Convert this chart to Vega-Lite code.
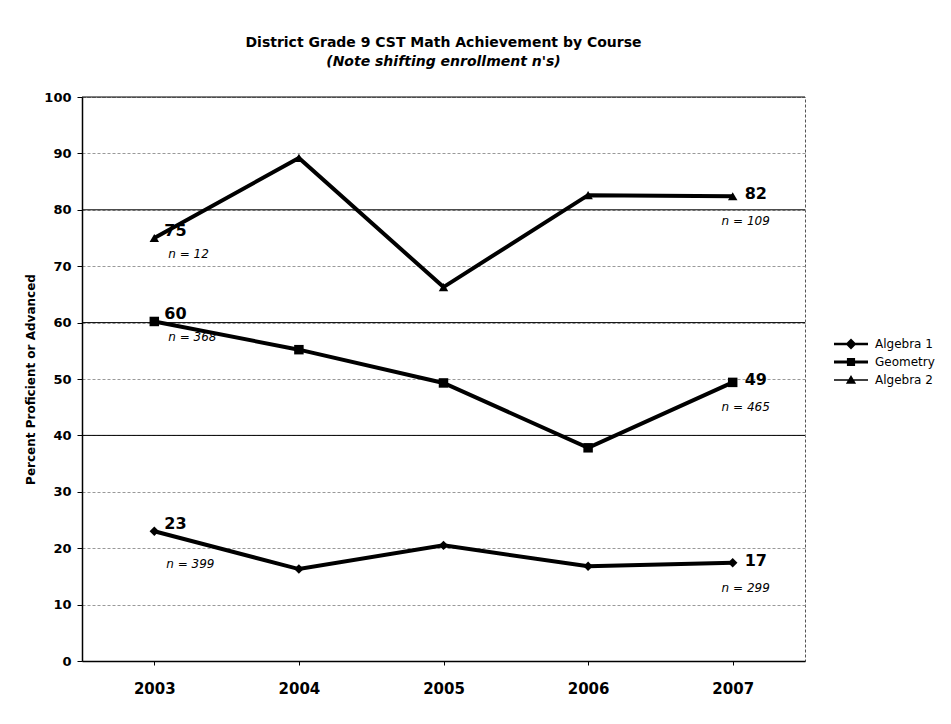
{
  "$schema": "https://vega.github.io/schema/vega-lite/v6.json",
  "width": 723,
  "height": 564,
  "autosize": {"type": "none"},
  "padding": {"left": 82, "top": 97, "right": 146, "bottom": 63},
  "background": "white",
  "config": {
    "font": "DejaVu Sans",
    "view": {"stroke": "#555", "strokeDash": [3, 2], "strokeWidth": 1},
    "axis": {"domainColor": "#000", "tickColor": "#000", "labelColor": "#000", "titleColor": "#000", "labelFontWeight": "bold"},
    "axisY": {"gridColor": "#999", "gridDash": [3, 2], "gridWidth": 1, "tickSize": 5, "labelFontSize": 13, "labelPadding": 6, "titleFontSize": 12, "titleFontWeight": "bold", "titlePadding": 6, "domainWidth": 1.5},
    "axisX": {"grid": false, "labelAngle": 0, "labelFontSize": 15, "tickSize": 4, "labelPadding": 16, "domainWidth": 1.5}
  },
  "title": {
    "text": "District Grade 9 CST Math Achievement by Course",
    "subtitle": "(Note shifting enrollment n's)",
    "fontSize": 14,
    "fontWeight": "bold",
    "color": "#000",
    "subtitleFontSize": 14,
    "subtitleFontWeight": "bold",
    "subtitleFontStyle": "italic",
    "subtitleColor": "#000",
    "subtitlePadding": 5,
    "anchor": "middle",
    "offset": 22
  },
  "data": {
    "values": [
      {"course": "Algebra 1", "year": "2003", "value": 23.0, "pos": "first", "label": "23", "n": "n = 399"},
      {"course": "Algebra 1", "year": "2004", "value": 16.3},
      {"course": "Algebra 1", "year": "2005", "value": 20.5},
      {"course": "Algebra 1", "year": "2006", "value": 16.8},
      {"course": "Algebra 1", "year": "2007", "value": 17.4, "pos": "last", "label": "17", "n": "n = 299"},
      {"course": "Geometry", "year": "2003", "value": 60.2, "pos": "first", "label": "60", "n": "n = 368"},
      {"course": "Geometry", "year": "2004", "value": 55.2},
      {"course": "Geometry", "year": "2005", "value": 49.3},
      {"course": "Geometry", "year": "2006", "value": 37.8},
      {"course": "Geometry", "year": "2007", "value": 49.4, "pos": "last", "label": "49", "n": "n = 465"},
      {"course": "Algebra 2", "year": "2003", "value": 75.0, "pos": "first", "label": "75", "n": "n = 12"},
      {"course": "Algebra 2", "year": "2004", "value": 89.2},
      {"course": "Algebra 2", "year": "2005", "value": 66.3},
      {"course": "Algebra 2", "year": "2006", "value": 82.6},
      {"course": "Algebra 2", "year": "2007", "value": 82.4, "pos": "last", "label": "82", "n": "n = 109"}
    ]
  },
  "layer": [
    {
      "mark": {"type": "line", "color": "#000"},
      "encoding": {
        "x": {"field": "year", "type": "ordinal", "title": null},
        "y": {"field": "value", "type": "quantitative", "scale": {"domain": [0, 100], "nice": false}, "title": "Percent Proficient or Advanced", "axis": {"grid": true, "values": [0, 10, 20, 30, 40, 50, 60, 70, 80, 90, 100]}},
        "detail": {"field": "course"},
        "strokeWidth": {"field": "course", "type": "nominal", "scale": {"domain": ["Algebra 1", "Geometry", "Algebra 2"], "range": [4, 4, 3]}, "legend": null}
      }
    },
    {
      "data": {"values": [{"g": 40}, {"g": 60}, {"g": 80}, {"g": 100}]},
      "mark": {"type": "rule", "color": "#000", "strokeWidth": 1},
      "encoding": {
        "y": {"field": "g", "type": "quantitative", "title": "Percent Proficient or Advanced", "axis": {"grid": true, "values": [0, 10, 20, 30, 40, 50, 60, 70, 80, 90, 100]}}
      }
    },
    {
      "mark": {"type": "point", "filled": true, "color": "#000", "size": 90, "opacity": 1},
      "encoding": {
        "x": {"field": "year", "type": "ordinal"},
        "y": {"field": "value", "type": "quantitative"},
        "shape": {"field": "course", "type": "nominal", "scale": {"domain": ["Algebra 1", "Geometry", "Algebra 2"], "range": ["diamond", "square", "triangle-up"]}, "legend": null}
      }
    },
    {
      "mark": {"type": "point", "filled": true, "color": "#000", "opacity": 0, "size": 1},
      "encoding": {
        "x": {"field": "year", "type": "ordinal"},
        "y": {"field": "value", "type": "quantitative"},
        "shape": {
          "field": "course", "type": "nominal",
          "scale": {"domain": ["Algebra 1", "Geometry", "Algebra 2"], "range": [
            "M-1,-0.07H1V0.07H-1ZM0,-0.32L0.32,0L0,0.32L-0.32,0Z",
            "M-1,-0.09H1V0.09H-1ZM-0.24,-0.24H0.24V0.24H-0.24Z",
            "M-1,-0.05H1V0.05H-1ZM0,-0.3L0.3,0.22H-0.3Z"
          ]},
          "legend": {
            "title": null, "orient": "none", "legendX": 751, "legendY": 238,
            "symbolSize": 1156, "clipHeight": 18, "labelOffset": 6, "labelFontSize": 12, "labelFontWeight": "normal", "labelColor": "#000",
            "padding": 0, "rowPadding": 0,
            "encode": {
              "symbols": {
                "update": {
                  "size": {"value": 1156},
                  "opacity": {"value": 1},
                  "fill": {"value": "#000"},
                  "fillOpacity": {"value": 1},
                  "strokeWidth": {"value": 0}
                }
              }
            }
          }
        }
      }
    },
    {
      "transform": [{"filter": "datum.pos == 'first'"}],
      "mark": {"type": "text", "fontSize": 16, "fontWeight": "bold", "align": "left", "baseline": "middle", "dx": 10, "dy": -7, "color": "#000"},
      "encoding": {
        "x": {"field": "year", "type": "ordinal"},
        "y": {"field": "value", "type": "quantitative"},
        "text": {"field": "label"}
      }
    },
    {
      "transform": [{"filter": "datum.pos == 'last'"}],
      "mark": {"type": "text", "fontSize": 16, "fontWeight": "bold", "align": "left", "baseline": "middle", "dx": 12, "dy": -2, "color": "#000"},
      "encoding": {
        "x": {"field": "year", "type": "ordinal"},
        "y": {"field": "value", "type": "quantitative"},
        "text": {"field": "label"}
      }
    },
    {
      "transform": [{"filter": "datum.pos == 'first' && datum.course != 'Algebra 1'"}],
      "mark": {"type": "text", "fontSize": 12, "fontStyle": "italic", "align": "left", "baseline": "middle", "dx": 14, "dy": 16, "color": "#000"},
      "encoding": {
        "x": {"field": "year", "type": "ordinal"},
        "y": {"field": "value", "type": "quantitative"},
        "text": {"field": "n"}
      }
    },
    {
      "transform": [{"filter": "datum.pos == 'first' && datum.course == 'Algebra 1'"}],
      "mark": {"type": "text", "fontSize": 12, "fontStyle": "italic", "align": "left", "baseline": "middle", "dx": 12, "dy": 33, "color": "#000"},
      "encoding": {
        "x": {"field": "year", "type": "ordinal"},
        "y": {"field": "value", "type": "quantitative"},
        "text": {"field": "n"}
      }
    },
    {
      "transform": [{"filter": "datum.pos == 'last'"}],
      "mark": {"type": "text", "fontSize": 12, "fontStyle": "italic", "align": "center", "baseline": "middle", "dx": 13, "dy": 25, "color": "#000"},
      "encoding": {
        "x": {"field": "year", "type": "ordinal"},
        "y": {"field": "value", "type": "quantitative"},
        "text": {"field": "n"}
      }
    }
  ],
  "resolve": {"scale": {"shape": "independent"}, "legend": {"shape": "independent"}}
}
